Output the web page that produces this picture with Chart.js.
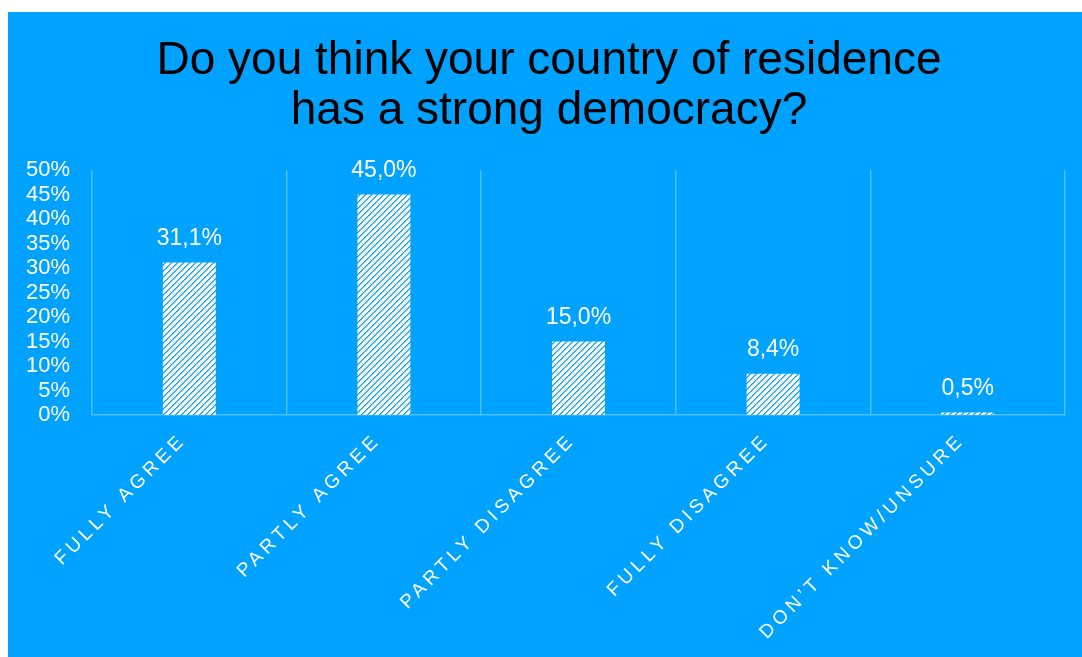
<!DOCTYPE html>
<html>
<head>
<meta charset="utf-8">
<script src="https://cdn.jsdelivr.net/npm/chart.js@4"></script>
<style>
  html, body { margin: 0; padding: 0; background: #fff; }
  #wrap { position: absolute; left: 8px; top: 12px; width: 1074px; height: 645px; background: #00A2FF; }
</style>
</head>
<body>
<div id="wrap"><canvas id="chart"></canvas></div>
<script>
const categories = ['FULLY AGREE', 'PARTLY AGREE', 'PARTLY DISAGREE', 'FULLY DISAGREE', 'DON\u2019T KNOW/UNSURE'];
const shares = [31.1, 45.0, 15.0, 8.4, 0.5];
const titleLines = ['Do you think your country of residence', 'has a strong democracy?'];

const blue = '#00A2FF';
const gridColor = 'rgba(255,255,255,0.3)';
const font = '"Liberation Sans", Arial, Helvetica, sans-serif';

// white fill with blue up-diagonal stripes
function makeStripes() {
  const c = document.createElement('canvas');
  c.width = 6;
  c.height = 6;
  const g = c.getContext('2d');
  g.fillStyle = '#fff';
  g.fillRect(0, 0, 6, 6);
  for (let x = 0; x < 6; x++) {
    g.fillStyle = blue;
    g.fillRect(x, 5 - x, 1, 1);
    g.fillStyle = '#66c7ff';
    g.fillRect(x, (6 - x) % 6, 1, 1);
  }
  return g.createPattern(c, 'repeat');
}

// x labels are drawn with wide letter spacing
const spacedLabels = {
  id: 'spacedLabels',
  beforeDraw(chart) {
    const xs = chart.scales.x;
    if (!xs || xs._spaced) return;
    const orig = xs.drawLabels.bind(xs);
    xs.drawLabels = function (area) {
      chart.ctx.save();
      chart.ctx.letterSpacing = '4.3px';
      orig(area);
      chart.ctx.restore();
    };
    xs._spaced = true;
  }
};

// title drawn by hand so it can sit off the plot's centre like the original
const titleText = {
  id: 'titleText',
  afterDraw(chart) {
    const ctx = chart.ctx;
    ctx.save();
    ctx.fillStyle = '#000';
    ctx.font = '46px ' + font;
    ctx.textAlign = 'center';
    ctx.textBaseline = 'middle';
    titleLines.forEach((line, i) => ctx.fillText(line, 541, 49 + i * 50));
    ctx.restore();
  }
};

const valueLabels = {
  id: 'valueLabels',
  afterDatasetsDraw(chart) {
    const ctx = chart.ctx;
    const meta = chart.getDatasetMeta(0);
    ctx.save();
    ctx.fillStyle = '#fff';
    ctx.font = '23px ' + font;
    ctx.textAlign = 'center';
    ctx.textBaseline = 'middle';
    meta.data.forEach((bar, i) => {
      const txt = shares[i].toFixed(1).replace('.', ',') + '%';
      ctx.fillText(txt, bar.x, bar.y - 24);
    });
    ctx.restore();
  }
};

new Chart(document.getElementById('chart'), {
  type: 'bar',
  data: {
    labels: categories,
    datasets: [{
      data: shares,
      backgroundColor: makeStripes(),
      borderWidth: 0,
      barPercentage: 0.272,
      categoryPercentage: 1
    }]
  },
  options: {
    responsive: true,
    maintainAspectRatio: false,
    animation: false,
    layout: { padding: { left: 4, right: 17, top: 158, bottom: 0 } },
    plugins: {
      legend: { display: false },
      tooltip: { enabled: false },
      title: { display: false }
    },
    scales: {
      x: {
        grid: { display: true, color: gridColor, lineWidth: 1.5, drawTicks: false, offset: true },
        border: { display: true, color: gridColor, width: 1.5 },
        ticks: {
          color: '#fff',
          font: { family: font, size: 19 },
          minRotation: 45,
          maxRotation: 45,
          padding: 14,
          labelOffset: -6,
          autoSkip: false
        },
        afterFit(scale) { scale.height = 242; }
      },
      y: {
        min: 0,
        max: 50,
        grid: { display: false, drawTicks: false },
        border: { display: false },
        ticks: {
          stepSize: 5,
          autoSkip: false,
          color: '#fff',
          font: { family: font, size: 22 },
          padding: 22,
          callback: (v) => v + '%'
        },
        afterFit(scale) { scale.width = 80; }
      }
    }
  },
  plugins: [spacedLabels, valueLabels, titleText]
});
</script>
</body>
</html>
